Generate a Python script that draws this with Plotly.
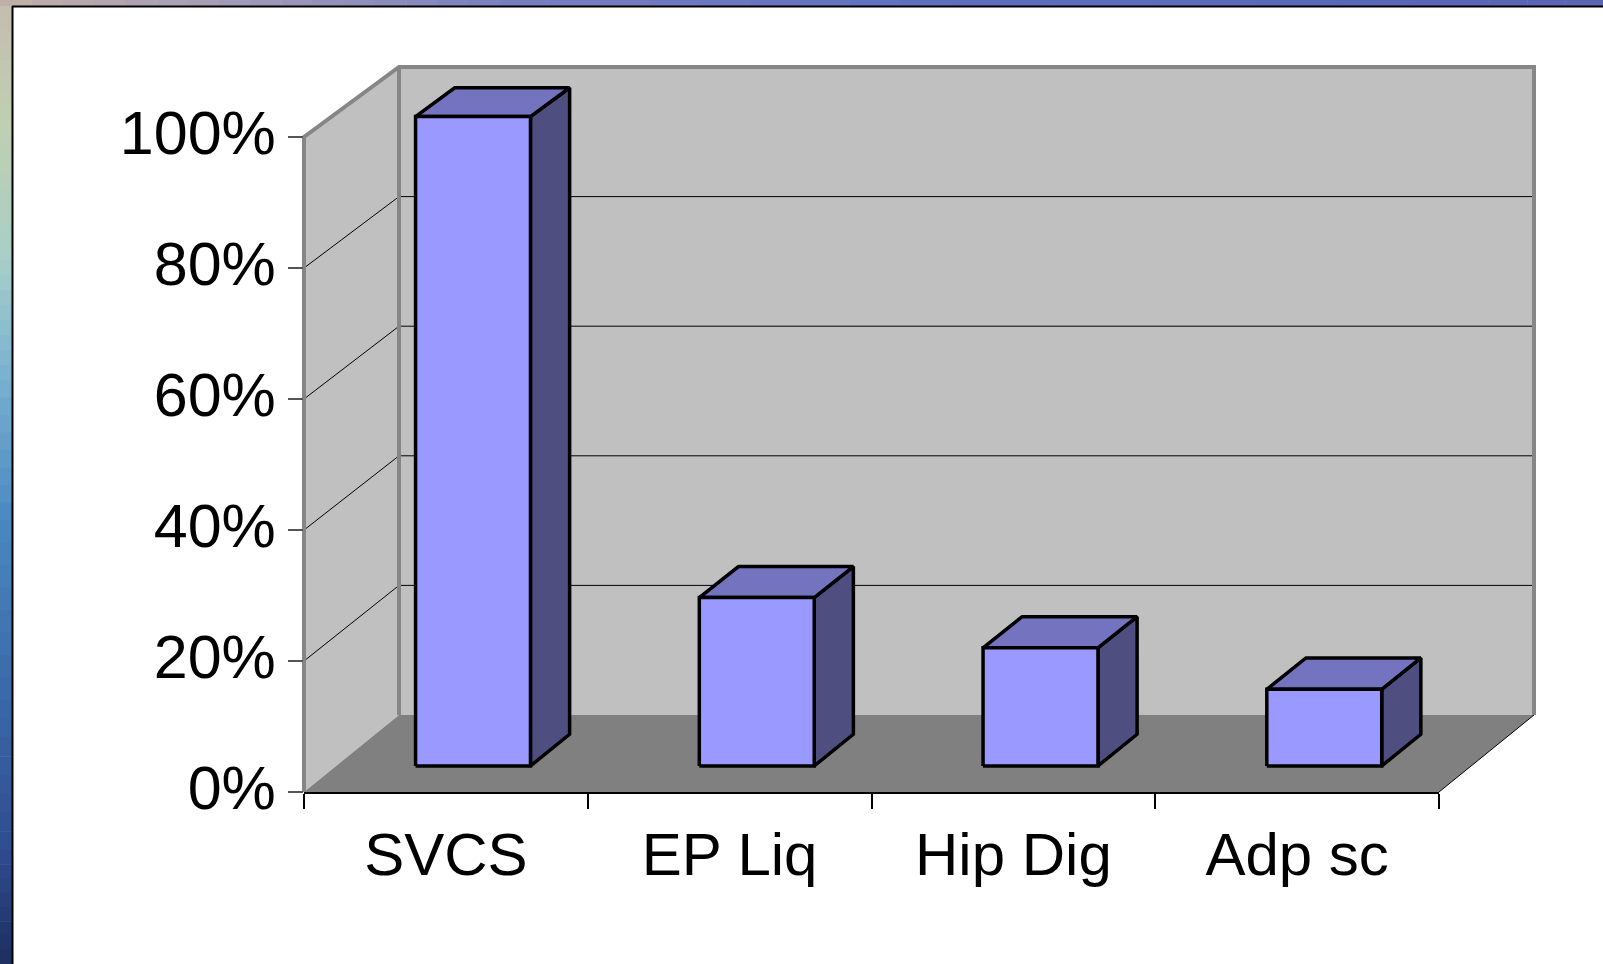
import plotly.graph_objects as go

# ---------------- data ----------------
categories = ["SVCS", "EP Liq", "Hip Dig", "Adp sc"]
values = [0.995, 0.258, 0.181, 0.1175]
y_ticks = [0, 0.2, 0.4, 0.6, 0.8, 1.0]
y_tick_labels = ["0%", "20%", "40%", "60%", "80%", "100%"]
grid_values = [0.2, 0.4, 0.6, 0.8]

# ---------------- geometry (pixels) ----------------
W, H = 1603, 964
X0, Y0 = 304, 792          # front-left-bottom corner of the floor
CAT_PX = 283.75            # width of one category on the front edge
VAL_PX = 655               # height of 100% on the front plane
DEPTH_DX, DEPTH_DY = 95, 77
PERSP = 7                  # small shrink of value scale towards the back
N = len(categories)
BAR_LEFT, BAR_W = 0.28, 0.405
D_FRONT, D_BACK = 0.338, 0.75

FONT = "Liberation Sans, Arial, sans-serif"


def proj(x, v, d):
    xd = x + DEPTH_DX / CAT_PX * d
    yd = (DEPTH_DY * d + v * (VAL_PX - PERSP * d)) / VAL_PX
    return xd, yd


def path(points):
    xs, ys = zip(*[proj(*p) for p in points])
    return list(xs), list(ys)


traces = []


def poly(points, fill, line_color="black", width=0):
    xs, ys = path(points + [points[0]])
    traces.append(go.Scatter(x=xs, y=ys, mode="lines", fill="toself", fillcolor=fill,
                             line=dict(color=line_color, width=width),
                             hoverinfo="skip", showlegend=False))


def line(points, color, width):
    xs, ys = path(points)
    traces.append(go.Scatter(x=xs, y=ys, mode="lines",
                             line=dict(color=color, width=width),
                             hoverinfo="skip", showlegend=False))


# walls and floor
poly([(0, 0, 0), (0, 1, 0), (0, 1, 1), (0, 0, 1)], "#C0C0C0")
poly([(0, 0, 1), (0, 1, 1), (N, 1, 1), (N, 0, 1)], "#C0C0C0")
poly([(0, 0, 0), (N, 0, 0), (N, 0, 1), (0, 0, 1)], "#808080")

# gridlines
for g in grid_values:
    line([(0, g, 0), (0, g, 1), (N, g, 1)], "black", 1)

# wall borders
line([(0, 0, 0), (0, 1, 0), (0, 1, 1), (N, 1, 1), (N, 0, 1)], "#868686", 4)
line([(0, 1, 1), (0, 0, 1)], "#868686", 4)
line([(N, 0, 0), (N, 0, 1)], "black", 1)

# bars
for i, v in enumerate(values):
    xa, xb = i + BAR_LEFT, i + BAR_LEFT + BAR_W
    poly([(xb, 0, D_FRONT), (xb, 0, D_BACK), (xb, v, D_BACK), (xb, v, D_FRONT)], "#4E4E80", "black", 3.5)
    poly([(xa, v, D_FRONT), (xb, v, D_FRONT), (xb, v, D_BACK), (xa, v, D_BACK)], "#7373BF", "black", 3.5)
    poly([(xa, 0, D_FRONT), (xb, 0, D_FRONT), (xb, v, D_FRONT), (xa, v, D_FRONT)], "#9999FF", "black", 3.5)

# invisible trace for the axis subplot
traces.append(go.Scatter(x=[0, N], y=[0, 1], xaxis="x2", yaxis="y2", mode="markers",
                         marker=dict(opacity=0), hoverinfo="skip", showlegend=False))

fig = go.Figure(traces)

# ---------------- background decoration ----------------
shapes = []


def prect(x0, y0, x1, y1, color):
    shapes.append(dict(type="rect", xref="paper", yref="paper", layer="below",
                       x0=x0 / W, x1=x1 / W, y0=1 - y1 / H, y1=1 - y0 / H,
                       fillcolor=color, line=dict(width=0)))


def lerp(c1, c2, t):
    a = [int(c1[k:k + 2], 16) for k in (1, 3, 5)]
    b = [int(c2[k:k + 2], 16) for k in (1, 3, 5)]
    return "#" + "".join(f"{int(round(a[j] + (b[j] - a[j]) * t)):02x}" for j in range(3))


left_stops = [(0, "#c4bcb0"), (120, "#c0cfb0"), (260, "#a8cfc8"), (380, "#78b0d0"),
              (520, "#4a88c0"), (700, "#3a68a8"), (850, "#2f4c90"), (964, "#1e2e60")]
for k in range(len(left_stops) - 1):
    (ya, ca), (yb, cb) = left_stops[k], left_stops[k + 1]
    steps = 8
    for s in range(steps):
        y0 = ya + (yb - ya) * s / steps
        y1 = ya + (yb - ya) * (s + 1) / steps
        prect(0, y0, 12, y1 + 0.5, lerp(ca, cb, (s + 0.5) / steps))

top_stops = [(0, "#c0b0a8"), (250, "#a09ab8"), (500, "#7a80c0"), (900, "#6070c0"),
             (1300, "#5a6ab8"), (1603, "#5c64b4")]
for k in range(len(top_stops) - 1):
    (xa_, ca), (xb_, cb) = top_stops[k], top_stops[k + 1]
    steps = 8
    for s in range(steps):
        x0 = xa_ + (xb_ - xa_) * s / steps
        x1 = xa_ + (xb_ - xa_) * (s + 1) / steps
        prect(x0, 0, x1 + 0.5, 6, lerp(ca, cb, (s + 0.5) / steps))

prect(12, 6, W, H, "white")
shapes.append(dict(type="line", xref="paper", yref="paper", layer="below",
                   x0=12.5 / W, x1=12.5 / W, y0=0, y1=1 - 6 / H, line=dict(color="black", width=2)))
shapes.append(dict(type="line", xref="paper", yref="paper", layer="below",
                   x0=12 / W, x1=1, y0=1 - 6.5 / H, y1=1 - 6.5 / H, line=dict(color="black", width=2)))

fig.update_layout(
    template="none",
    width=W, height=H,
    autosize=False,
    margin=dict(l=0, r=0, t=0, b=0, pad=0, autoexpand=False),
    paper_bgcolor="white",
    plot_bgcolor="rgba(0,0,0,0)",
    shapes=shapes,
    showlegend=False,
    xaxis=dict(domain=[0, 1], range=[-X0 / CAT_PX, (W - X0) / CAT_PX], visible=False,
               fixedrange=True, automargin=False),
    yaxis=dict(domain=[0, 1], range=[-(H - Y0) / VAL_PX, Y0 / VAL_PX], visible=False,
               fixedrange=True, automargin=False),
    xaxis2=dict(domain=[X0 / W, (X0 + N * CAT_PX) / W], anchor="y2", range=[0, N],
                tickmode="array", tickvals=[i + 0.5 for i in range(N)], ticktext=categories,
                ticks="", showline=True, linecolor="black", linewidth=1.5,
                showgrid=False, zeroline=False, fixedrange=True, automargin=False,
                ticklabelstandoff=9,
                tickfont=dict(family=FONT, size=60, color="black"),
                minor=dict(tickmode="array", tickvals=list(range(N + 1)), ticks="outside",
                           ticklen=15, tickcolor="black", tickwidth=1.5, showgrid=False)),
    yaxis2=dict(domain=[(H - Y0) / H, (H - (Y0 - VAL_PX)) / H], anchor="x2", range=[0, 1],
                tickmode="array", tickvals=y_ticks, ticktext=y_tick_labels,
                ticks="outside", ticklen=15, tickcolor="#555555", tickwidth=2,
                showline=False, showgrid=False, zeroline=False, fixedrange=True, automargin=False,
                ticklabelstandoff=0, ticklabelshift=-4,
                tickfont=dict(family=FONT, size=61, color="black")),
)

post = ("document.body.style.margin='0';document.body.style.padding='0';"
        "document.body.style.overflow='hidden';"
        "var gd=document.getElementById('{plot_id}');"
        "gd.style.position='absolute';gd.style.left='0px';gd.style.top='0px';")

fig.write_html("out.html", config={"displayModeBar": False}, post_script=post)
